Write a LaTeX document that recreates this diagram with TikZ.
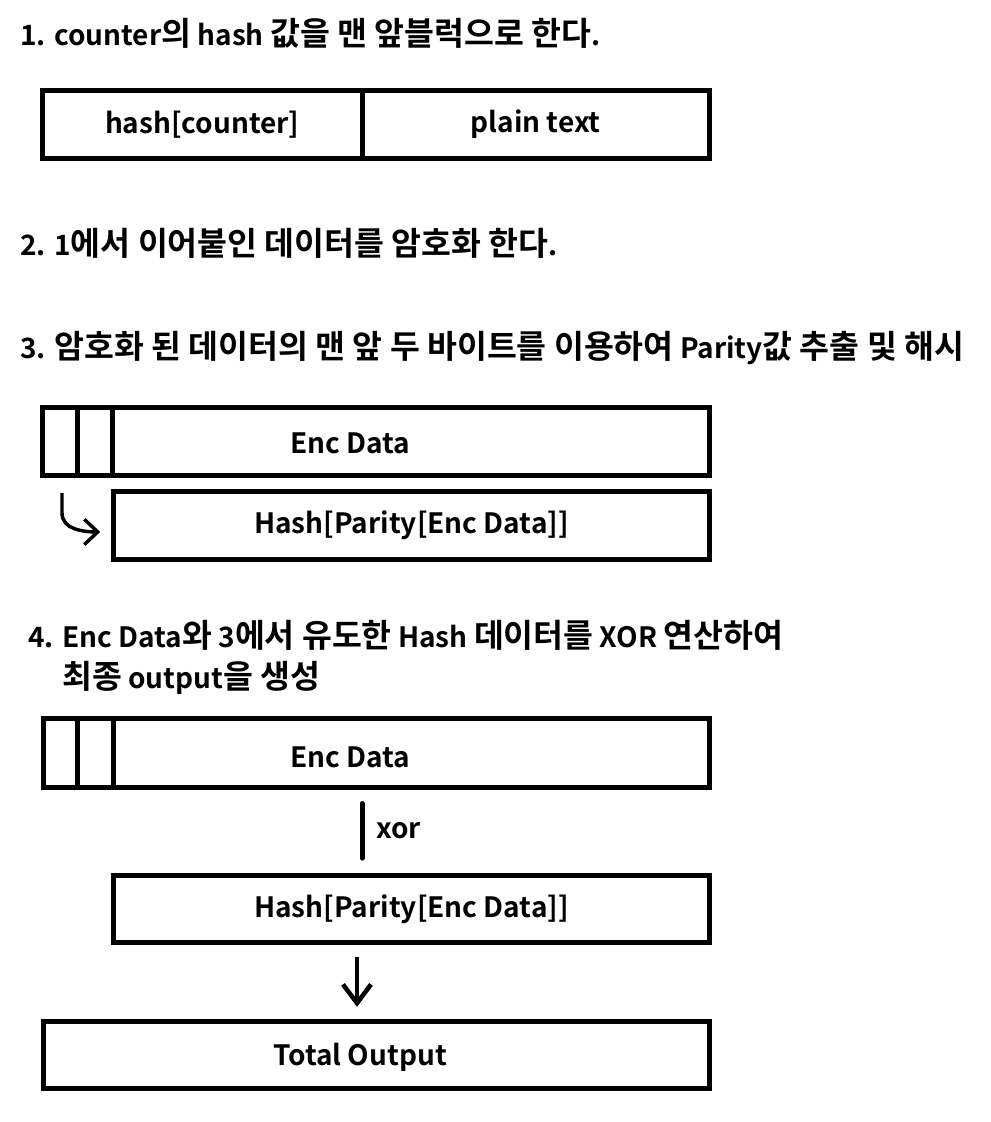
\documentclass[tikz,border=0pt]{standalone}
\usepackage{fontspec}
\setmainfont{Noto Sans CJK KR}[UprightFont=* Bold]
\newfontfamily\kr{Noto Sans CJK KR}[UprightFont=* Bold,Scale=1.16]
\usetikzlibrary{arrows.meta}
\def\px{0.75pt}
\def\hg#1{{\kr #1}}
\def\blk#1#2#3#4#5{
\node[blk,minimum width={(#4-#2)*\px},minimum height={(#5-#3)*\px}] (#1) at (#2,#3) {};
}
\begin{document}
\begin{tikzpicture}[x=\px,y=-\px,
  blk/.style={draw,line width=3.75pt,inner sep=0pt,outer sep=0pt,anchor=north west},
  div/.style={line width=3.75pt},
  ttl/.style={anchor=west,inner sep=0pt,font=\fontsize{21}{25}\selectfont},
  lbl/.style={inner sep=0pt,font=\fontsize{21}{25}\selectfont}]
\useasboundingbox (0,0) rectangle (990,1122);
\node[ttl] (t1) at (20,33) {1. counter\hg{의} hash \hg{값을 맨 앞블럭으로 한다}.};
\blk{hc}{42.5}{90.5}{362}{158.5}
\blk{pt}{362}{90.5}{709.5}{158.5}
\node[lbl] (hcl) at (hc) {hash[counter]};
\node[lbl] (ptl) at (pt) {plain text};
\node[ttl] (t2) at (20,243) {2. 1\hg{에서 이어붙인 데이터를 암호화 한다}.};
\node[ttl] (t3) at (20,348) {3. \hg{암호화 된 데이터의 맨 앞 두 바이트를 이용하여} Parity\hg{값 추출 및 해시}};
\blk{encA}{42.5}{407.5}{709.5}{475.5}
\foreach \d in {77,112} \draw[div] (\d,407.5) -- (\d,475.5);
\node[lbl] (encAl) at (350,443) {Enc Data};
\blk{hashA}{113.5}{491}{709.5}{559.5}
\node[lbl] (hashAl) at (hashA) {Hash[Parity[Enc Data]]};
\coordinate (hookS) at (62,493);
\draw[line width=2.6pt,-{Straight Barb[length=10pt,width=19pt]}] (hookS) -- ++(0,20)
  to[out=-90,in=180] ([xshift=-10pt,yshift=-5pt]hashA.west);
\node[ttl] (t4) at (28,635) {4. Enc Data\hg{와} 3\hg{에서 유도한} Hash \hg{데이터를} XOR \hg{연산하여}};
\node[ttl] (t4b) at (62,678) {\hg{최종} output\hg{을 생성}};
\blk{encB}{43.5}{718.5}{709.5}{787.5}
\foreach \d in {77,113} \draw[div] (\d,718.5) -- (\d,787.5);
\node[lbl] (encBl) at (350,757) {Enc Data};
\blk{hashB}{113.5}{875.5}{709.5}{942.5}
\node[lbl] (hashBl) at (hashB) {Hash[Parity[Enc Data]]};
\blk{tot}{43.5}{1021.5}{709.5}{1088.5}
\node[lbl] (totl) at (360,1057) {Total Output};
\coordinate (xorx) at (362,0);
\draw[div,line cap=round,shorten <=12pt,shorten >=13pt] (encB.south -| xorx) -- (hashB.north -| xorx);
\node[lbl,anchor=west] (xorl) at (376,831) {xor};
\coordinate (outx) at (357,0);
\draw[line width=3.4pt,shorten <=11pt,shorten >=11pt,-{Straight Barb[length=14pt,width=21pt]}]
  (hashB.south -| outx) -- (tot.north -| outx);
\end{tikzpicture}
\end{document}
